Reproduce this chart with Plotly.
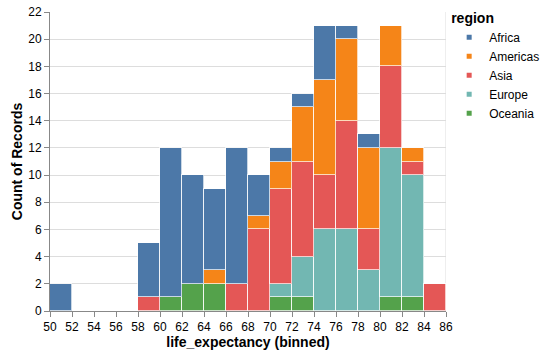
import plotly.graph_objects as go

bin_starts = [50, 52, 54, 56, 58, 60, 62, 64, 66, 68, 70, 72, 74, 76, 78, 80, 82, 84]
bin_width = 2
regions = ["Africa", "Americas", "Asia", "Europe", "Oceania"]
colors = {"Africa": "#4c78a8", "Americas": "#f58518", "Asia": "#e45756",
          "Europe": "#72b7b2", "Oceania": "#54a24b"}

africa   = [2, 0, 0, 0, 4, 11, 8, 6, 10, 3, 1, 1, 4, 1, 1, 0, 0, 0]
americas = [0, 0, 0, 0, 0, 0, 0, 1, 0, 1, 2, 4, 7, 6, 6, 3, 1, 0]
asia     = [0, 0, 0, 0, 1, 0, 0, 0, 2, 6, 7, 7, 4, 8, 3, 6, 1, 2]
europe   = [0, 0, 0, 0, 0, 0, 0, 0, 0, 0, 1, 3, 6, 6, 3, 11, 9, 0]
oceania  = [0, 0, 0, 0, 0, 1, 2, 2, 0, 0, 1, 1, 0, 0, 0, 1, 1, 0]
values = {"Africa": africa, "Americas": americas, "Asia": asia,
          "Europe": europe, "Oceania": oceania}

x_ticks = list(range(50, 88, 2))
y_ticks = list(range(0, 24, 2))

FONT = "Liberation Sans, Arial, sans-serif"
fig = go.Figure()

# stack order: Oceania at bottom, Africa at top
for r in reversed(regions):
    fig.add_trace(go.Bar(
        x=bin_starts, y=values[r], width=bin_width, offset=0,
        marker=dict(color=colors[r], line=dict(color="rgba(255,255,255,0.7)", width=1)),
        name=r, showlegend=False,
    ))

for i, r in enumerate(regions):
    fig.add_trace(go.Scatter(
        x=[None], y=[None], mode="markers", name=r,
        marker=dict(symbol="square", size=5, color=colors[r]),
    ))

fig.add_shape(type="line", xref="x", yref="paper", x0=86, x1=86, y0=0, y1=1,
              line=dict(color="#dddddd", width=1), layer="below")

fig.update_layout(
    width=545, height=353,
    margin=dict(l=50, r=99, t=12, b=42, autoexpand=False),
    barmode="stack", bargap=0,
    plot_bgcolor="white", paper_bgcolor="white",
    font=dict(family=FONT, color="#000"),
    legend=dict(
        title=dict(text="<b>region</b>", font=dict(size=14)),
        font=dict(size=12),
        traceorder="normal",
        x=1.008, xanchor="left", y=1.025, yanchor="top",
        itemwidth=30, tracegroupgap=0,
        bgcolor="rgba(0,0,0,0)",
    ),
    xaxis=dict(
        range=[50, 86], tickvals=x_ticks, ticktext=[str(t) for t in x_ticks],
        showgrid=False, zeroline=False, automargin=False,
        showline=True, linecolor="#888", linewidth=1,
        ticks="outside", ticklen=5, tickcolor="#888",
        tickfont=dict(size=12),
        title=dict(text="<b>life_expectancy (binned)</b>", font=dict(size=14), standoff=2),
    ),
    yaxis=dict(
        range=[0, 22], tickvals=y_ticks,
        showgrid=True, gridcolor="#dddddd", zeroline=False, automargin=False,
        showline=True, linecolor="#888", linewidth=1,
        ticks="outside", ticklen=5, tickcolor="#888",
        tickfont=dict(size=12),
        title=dict(text="<b>Count of Records</b>", font=dict(size=14), standoff=2),
    ),
)

fig.write_html("out.html")
